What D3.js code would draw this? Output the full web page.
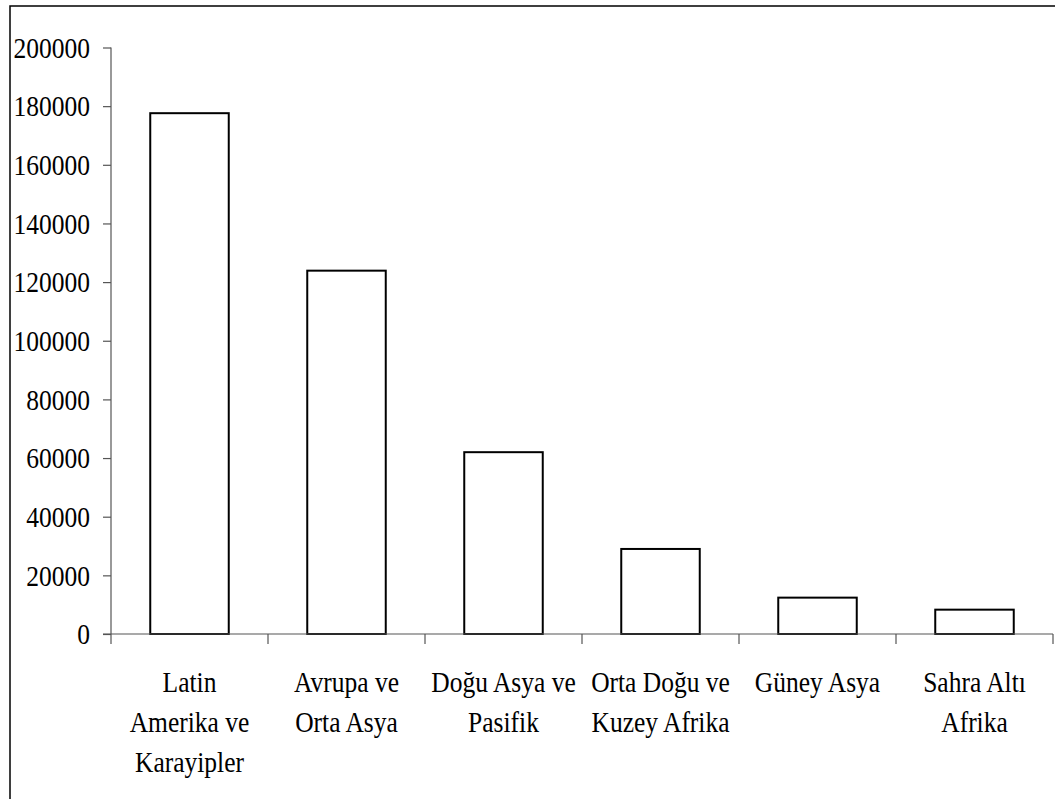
<!DOCTYPE html>
<html><head><meta charset="utf-8">
<script src="https://cdn.jsdelivr.net/npm/d3@7"></script>
<style>body{margin:0;background:#fff}svg{display:block}</style>
</head><body>
<script>
const categories = ["Latin Amerika ve Karayipler","Avrupa ve Orta Asya","Doğu Asya ve Pasifik","Orta Doğu ve Kuzey Afrika","Güney Asya","Sahra Altı Afrika"];
const categoryLines = [["Latin","Amerika ve","Karayipler"],["Avrupa ve","Orta Asya"],["Doğu Asya ve","Pasifik"],["Orta Doğu ve","Kuzey Afrika"],["Güney Asya"],["Sahra Altı","Afrika"]];
const values = [177600,123900,62000,29000,12400,8300];
const yTicks = [0,20000,40000,60000,80000,100000,120000,140000,160000,180000,200000];

(function(){
const W=1055,H=799;
const svg=d3.select("body").append("svg").attr("width",W).attr("height",H);
svg.append("rect").attr("width",W).attr("height",H).attr("fill","#fff");
svg.append("rect").attr("x",10).attr("y",6).attr("width",W+20).attr("height",H+20)
  .attr("fill","none").attr("stroke","#000").attr("stroke-width",1.5);

const pLeft=111,pRight=1053,pTop=47.5,pBottom=634;
const x=d3.scaleBand().domain(categories).range([pLeft,pRight]).paddingInner(0).paddingOuter(0);
const y=d3.scaleLinear().domain([0,200000]).range([pBottom,pTop]);
const FONT='"Liberation Serif"';

// y axis
const ya=svg.append("g").attr("transform",`translate(${pLeft},0)`)
  .call(d3.axisLeft(y).tickValues(yTicks).tickSize(8).tickFormat(""));
ya.selectAll("path,line").attr("stroke","#555").attr("stroke-width",1.2);
ya.select(".domain").attr("d",`M0,${pTop}V${pBottom}`);
svg.append("g").selectAll("text").data(yTicks).join("text")
  .attr("transform",d=>`translate(90,${y(d)}) scale(0.85,1)`)
  .attr("text-anchor","end").attr("dy","0.34em")
  .style("font-family",FONT).attr("font-size",30).attr("fill","#000")
  .text(d=>d);

// bars
const bw=x.bandwidth()/2;
svg.append("g").selectAll("rect").data(values).join("rect")
  .attr("x",(d,i)=>x(categories[i])+x.bandwidth()/4)
  .attr("y",d=>y(d)).attr("width",bw).attr("height",d=>y(0)-y(d))
  .attr("fill","#fff").attr("stroke","#000").attr("stroke-width",2);

// x axis
const xa=svg.append("g").attr("transform",`translate(0,${pBottom})`)
  .call(d3.axisBottom(x).tickSize(0).tickFormat(""));
xa.selectAll("path,line").attr("stroke","#555").attr("stroke-width",1.2);
xa.select(".domain").attr("d",`M${pLeft-8},0H${pRight}`);
const bounds=[...categories.map(c=>x(c)),pRight];
svg.append("g").selectAll("line").data(bounds).join("line")
  .attr("x1",d=>d).attr("x2",d=>d).attr("y1",pBottom).attr("y2",pBottom+10)
  .attr("stroke","#555").attr("stroke-width",1.2);

// category labels
const lab=svg.append("g");
categories.forEach((c,i)=>{
  const cx=x(c)+x.bandwidth()/2;
  categoryLines[i].forEach((ln,j)=>{
    lab.append("text").attr("transform",`translate(${cx},${692+j*40}) scale(0.85,1)`)
      .attr("text-anchor","middle").style("font-family",FONT).attr("font-size",30)
      .attr("fill","#000").text(ln);
  });
});
})();
</script>
</body></html>
